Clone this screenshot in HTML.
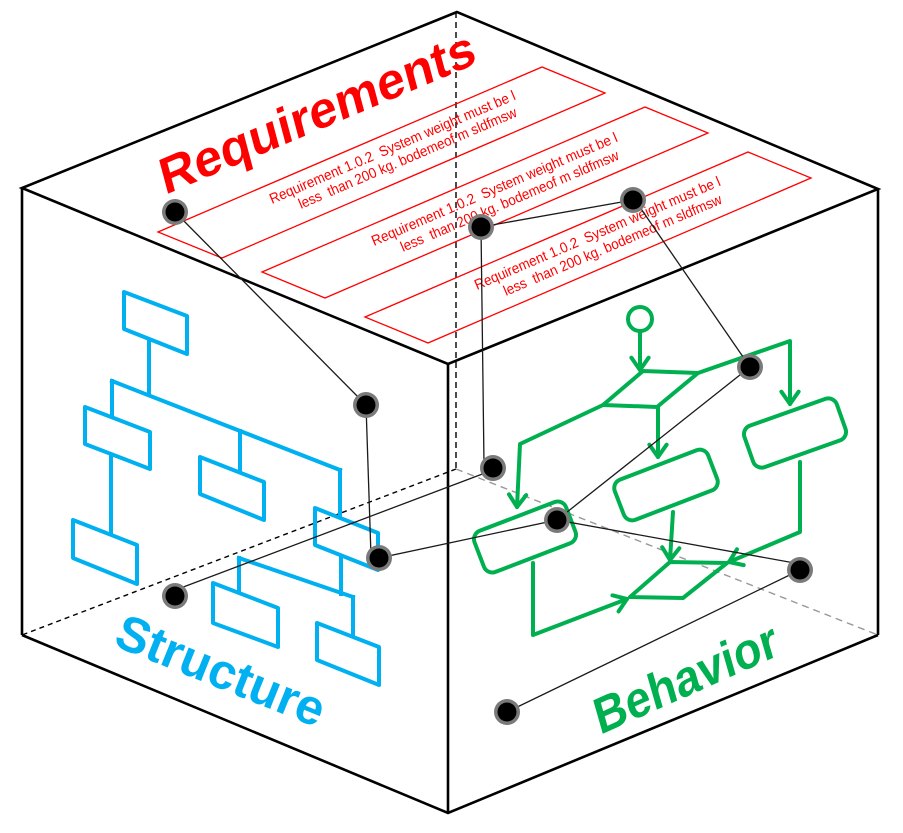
<!DOCTYPE html>
<html>
<head>
<meta charset="utf-8">
<style>
html,body{margin:0;padding:0;background:#fff;}
svg{display:block;}
</style>
</head>
<body>
<svg width="903" height="833" viewBox="0 0 903 833" xmlns="http://www.w3.org/2000/svg">
<defs>
<marker id="ga" markerUnits="userSpaceOnUse" viewBox="-16 -12 20 24" markerWidth="20" markerHeight="24" refX="0" refY="0" orient="auto" overflow="visible">
<path d="M-12.3,-8.6 L0,0 L-12.3,8.6" fill="none" stroke="#00B050" stroke-width="4" stroke-linecap="round" stroke-linejoin="round"/>
</marker>
</defs>
<rect width="903" height="833" fill="#fff"/>

<!-- hidden dashed edges -->
<line x1="456" y1="12" x2="456" y2="469" stroke="#000" stroke-width="1.4" stroke-dasharray="6 4"/>
<line x1="456" y1="469" x2="22" y2="635" stroke="#000" stroke-width="1.4" stroke-dasharray="5 4"/>
<line x1="456" y1="469" x2="878" y2="635" stroke="#999" stroke-width="1.4" stroke-dasharray="7 5"/>

<!-- cube visible edges -->
<g fill="none" stroke="#000" stroke-width="2.6" stroke-linejoin="miter">
<polygon points="457,12 22,188 448,364 878,189"/>
<line x1="22" y1="188" x2="22" y2="635"/>
<line x1="878" y1="189" x2="878" y2="635"/>
<line x1="448" y1="364" x2="448" y2="813"/>
<polyline points="22,635 448,813 878,635"/>
</g>

<!-- requirement boxes -->
<g fill="none" stroke="#FF0000" stroke-width="1.3">
<polygon points="158,232 542,67 605,93 222,258"/>
<polygon points="262,272 645,107 708,133 325,298"/>
<polygon points="365,317 748,152 811,178 428,343"/>
</g>
<g fill="#FF0000" font-family="'Liberation Sans', sans-serif" font-size="14.5" xml:space="preserve">
<text transform="translate(272,204) rotate(-23.2)" textLength="266" lengthAdjust="spacingAndGlyphs" xml:space="preserve">Requirement 1.0.2  System weight must be l</text>
<text transform="translate(301,209) rotate(-23.2)" textLength="236" lengthAdjust="spacingAndGlyphs" xml:space="preserve">less  than 200 kg. bodemeof m sldfmsw</text>
<text transform="translate(374,246) rotate(-23.2)" textLength="266" lengthAdjust="spacingAndGlyphs" xml:space="preserve">Requirement 1.0.2  System weight must be l</text>
<text transform="translate(403,252) rotate(-23.2)" textLength="236" lengthAdjust="spacingAndGlyphs" xml:space="preserve">less  than 200 kg. bodemeof m sldfmsw</text>
<text transform="translate(477,290) rotate(-23.2)" textLength="266" lengthAdjust="spacingAndGlyphs" xml:space="preserve">Requirement 1.0.2  System weight must be l</text>
<text transform="translate(506,296) rotate(-23.2)" textLength="236" lengthAdjust="spacingAndGlyphs" xml:space="preserve">less  than 200 kg. bodemeof m sldfmsw</text>
</g>

<!-- big labels -->
<text transform="translate(165,195) rotate(-22.9) skewX(-8)" font-family="'Liberation Sans', sans-serif" font-weight="bold" font-size="50" fill="#FF0000" textLength="340" lengthAdjust="spacingAndGlyphs">Requirements</text>
<text transform="translate(112,645) rotate(22)" font-family="'Liberation Sans', sans-serif" font-weight="bold" font-size="50" fill="#00B0F0" textLength="221" lengthAdjust="spacingAndGlyphs">Structure</text>
<text transform="translate(600,735) rotate(-24) skewX(-8)" font-family="'Liberation Sans', sans-serif" font-weight="bold" font-size="50" fill="#00B050" textLength="198" lengthAdjust="spacingAndGlyphs">Behavior</text>

<!-- structure (blue) -->
<g fill="none" stroke="#00B0F0" stroke-width="4" stroke-linejoin="round" stroke-linecap="square">
<polygon points="124,292 187,316 187,354 124,329"/>
<line x1="149" y1="340" x2="149" y2="394"/>
<line x1="112" y1="381" x2="340" y2="470"/>
<line x1="112" y1="381" x2="112" y2="416"/>
<polygon points="85,407 150,432 150,469 85,444"/>
<line x1="240" y1="431" x2="240" y2="472"/>
<polygon points="200,457 264,482 264,520 200,494"/>
<line x1="340" y1="470" x2="340" y2="517"/>
<polygon points="315,508 378,533 378,570 315,545"/>
<line x1="111" y1="455" x2="111" y2="534"/>
<polygon points="73,520 137,545 137,584 73,558"/>
<line x1="341" y1="556" x2="341" y2="594"/>
<line x1="239" y1="558" x2="353" y2="597"/>
<line x1="239" y1="558" x2="239" y2="592"/>
<polygon points="213,583 278,608 278,647 213,623"/>
<line x1="353" y1="597" x2="353" y2="636"/>
<polygon points="317,623 379,647 379,685 317,660"/>
</g>

<!-- behavior (green) -->
<g fill="none" stroke="#00B050" stroke-width="4" stroke-linejoin="round" stroke-linecap="round">
<circle cx="640" cy="319" r="12"/>
<line x1="640" y1="332" x2="640" y2="370" marker-end="url(#ga)"/>
<polygon points="643,371 698,373 657,407 603,405"/>
<polyline points="698,373 790,341 790,404" marker-end="url(#ga)"/>
<polyline points="603,405 520,444 517,507" marker-end="url(#ga)"/>
<line x1="658" y1="407" x2="658" y2="457" marker-end="url(#ga)"/>
<rect x="-49" y="-22" width="98" height="44" rx="9" transform="translate(795,433) rotate(-19.5)"/>
<rect x="-50" y="-21.5" width="100" height="43" rx="9" transform="translate(666,485) rotate(-21)"/>
<rect x="-49" y="-22" width="98" height="44" rx="9" transform="translate(525,537) rotate(-21)"/>
<polyline points="800,462 800,532 729,562" marker-end="url(#ga)"/>
<line x1="673" y1="512" x2="670" y2="560" marker-end="url(#ga)"/>
<polygon points="670,562 727,563 683,598 630,597"/>
<polyline points="533,563 533,635 627,599" marker-end="url(#ga)"/>
</g>

<!-- connectors -->
<g stroke="#1a1a1a" stroke-width="1.3" fill="none">
<line x1="175" y1="212" x2="366" y2="405"/>
<line x1="366" y1="405" x2="371" y2="556"/>
<line x1="481" y1="227" x2="633" y2="200"/>
<line x1="481" y1="227" x2="484" y2="464"/>
<line x1="637" y1="203" x2="750" y2="367"/>
<line x1="750" y1="367" x2="557" y2="520"/>
<line x1="493" y1="470" x2="178" y2="589"/>
<line x1="379" y1="558" x2="557" y2="520"/>
<line x1="557" y1="520" x2="800" y2="564"/>
<line x1="800" y1="570" x2="507" y2="712"/>
</g>

<!-- dots -->
<g>
<g fill="#7a7a7a">
<circle cx="175" cy="212" r="13"/>
<circle cx="481" cy="227" r="13"/>
<circle cx="633" cy="200" r="13"/>
<circle cx="366" cy="405" r="13"/>
<circle cx="493" cy="468" r="13"/>
<circle cx="750" cy="367" r="13"/>
<circle cx="557" cy="520" r="13"/>
<circle cx="379" cy="558" r="13"/>
<circle cx="175" cy="596" r="13"/>
<circle cx="800" cy="570" r="13"/>
<circle cx="507" cy="712" r="13"/>
</g>
<g fill="#000">
<circle cx="175" cy="212" r="9.5"/>
<circle cx="481" cy="227" r="9.5"/>
<circle cx="633" cy="200" r="9.5"/>
<circle cx="366" cy="405" r="9.5"/>
<circle cx="493" cy="468" r="9.5"/>
<circle cx="750" cy="367" r="9.5"/>
<circle cx="557" cy="520" r="9.5"/>
<circle cx="379" cy="558" r="9.5"/>
<circle cx="175" cy="596" r="9.5"/>
<circle cx="800" cy="570" r="9.5"/>
<circle cx="507" cy="712" r="9.5"/>
</g>
</g>
</svg>
</body>
</html>
